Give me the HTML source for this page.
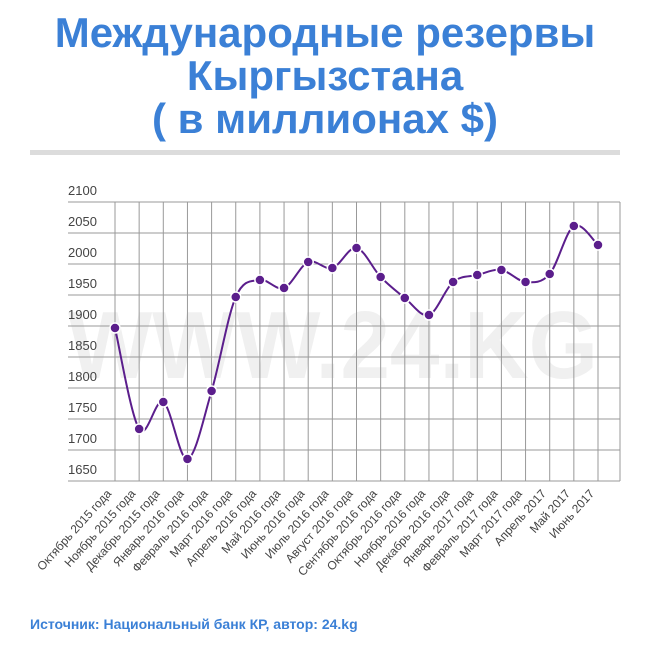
<!DOCTYPE html>
<html><head><meta charset="utf-8"><style>
body{margin:0;background:#fff;width:650px;height:661px;overflow:hidden}
</style></head><body>
<svg width="650" height="661" xmlns="http://www.w3.org/2000/svg" font-family="Liberation Sans, sans-serif">
<g fill="#3b80d6" font-weight="bold" font-size="42" text-anchor="middle">
<text x="325" y="47">Международные резервы</text>
<text x="325" y="90">Кыргызстана</text>
<text x="325" y="133">( в миллионах $)</text>
</g>
<rect x="30" y="150" width="590" height="5" fill="#dcdcdc"/>
<text x="333" y="378" font-size="96" font-weight="bold" fill="#f0f0f0" text-anchor="middle" textLength="530" lengthAdjust="spacingAndGlyphs">WWW.24.KG</text>
<g id="grid" stroke="#999" stroke-width="1"></g>
<g id="yl" font-size="13" fill="#444"></g>
<path id="ln" fill="none" stroke="#5b1e8c" stroke-width="2"/>
<g id="pts" fill="#5b1e8c" stroke="#fff" stroke-width="1.5"></g>
<g id="xl" font-size="12" fill="#444" text-anchor="end"></g>
<text x="30" y="629" font-size="14" font-weight="bold" fill="#3b80d6">Источник: Национальный банк КР, автор: 24.kg</text>
</svg>
<script>
var ns="http://www.w3.org/2000/svg";
function el(t,a,p,txt){var e=document.createElementNS(ns,t);for(var k in a)e.setAttribute(k,a[k]);if(txt)e.textContent=txt;document.getElementById(p).appendChild(e);}
var y0=202,y1=481,x0=115,d=24.15;
for(var i=0;i<10;i++){var y=y0+i*31;el('line',{x1:68,x2:620,y1:y,y2:y},'grid');el('text',{x:68,y:y-7},'yl',String(2100-50*i));}
for(var i=0;i<21;i++){var x=x0+i*d;el('line',{x1:x,x2:x,y1:y0,y2:y1},'grid');}
el('line',{x1:620,x2:620,y1:y0,y2:y1},'grid');
var ys=[328,429,402,459,391,297,280,288,262,268,248,277,298,315,282,275,270,282,274,226,245];
var P=ys.map(function(y,i){return [x0+i*d,y]});
var s="M"+P[0][0]+","+P[0][1];
for(var i=0;i<P.length-1;i++){var a=P[i-1]||P[i],b=P[i],c=P[i+1],e=P[i+2]||c;
s+=" C"+(b[0]+(c[0]-a[0])/6)+","+(b[1]+(c[1]-a[1])/6)+" "+(c[0]-(e[0]-b[0])/6)+","+(c[1]-(e[1]-b[1])/6)+" "+c[0]+","+c[1];}
document.getElementById('ln').setAttribute('d',s);
P.forEach(function(p){el('circle',{cx:p[0],cy:p[1],r:5},'pts');});
var L=["Октябрь 2015 года","Ноябрь 2015 года","Декабрь 2015 года","Январь 2016 года","Февраль 2016 года","Март 2016 года","Апрель 2016 года","Май 2016 года","Июнь 2016 года","Июль 2016 года","Август 2016 года","Сентябрь 2016 года","Октябрь 2016 года","Ноябрь 2016 года","Декабрь 2016 года","Январь 2017 года","Февраль 2017 года","Март 2017 года","Апрель 2017","Май 2017","Июнь 2017"];
L.forEach(function(t,i){var x=x0+i*d-3,y=494;el('text',{x:x,y:y,transform:'rotate(-48 '+x+' '+y+')'},'xl',t);});
</script>
</body></html>
